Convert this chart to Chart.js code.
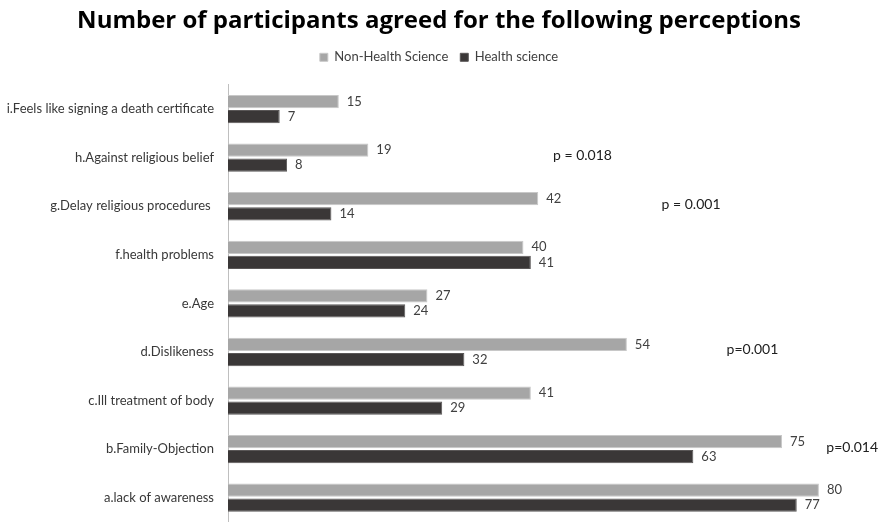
<!DOCTYPE html>
<html>
<head>
<meta charset="utf-8">
<script src="https://cdn.jsdelivr.net/npm/chart.js@4"></script>
<style>
  html, body { margin: 0; padding: 0; background: #fff; }
  #wrap { width: 878px; height: 522px; }
</style>
</head>
<body>
<div id="wrap"><canvas id="perceptionChart"></canvas></div>
<script>
const categories = [
    'i.Feels like signing a death certificate',
    'h.Against religious belief',
    'g.Delay religious procedures ',
    'f.health problems',
    'e.Age',
    'd.Dislikeness',
    'c.Ill treatment of body',
    'b.Family-Objection',
    'a.lack of awareness'
];
const nonHealthScience = [15, 19, 42, 40, 27, 54, 41, 75, 80];
const healthScience = [7, 8, 14, 41, 24, 32, 29, 63, 77];

// p-value notes: text, x value, row label
const pNotes = [
    { text: 'p = 0.018', x: 44, row: 'h.Against religious belief' },
    { text: 'p = 0.001', x: 58.7, row: 'g.Delay religious procedures ' },
    { text: 'p=0.001', x: 67.5, row: 'd.Dislikeness' },
    { text: 'p=0.014', x: 81, row: 'b.Family-Objection' }
];

const fontName = 'Lato, "Liberation Sans", sans-serif';

// extra room under the legend
const legendSpace = {
    id: 'legendSpace',
    beforeInit(chart) {
        const fit = chart.legend.fit;
        chart.legend.fit = function () {
            fit.bind(chart.legend)();
            this.height += 11;
        };
    }
};

// numbers at the end of each bar
const barValues = {
    id: 'barValues',
    afterDatasetsDraw(chart) {
        const ctx = chart.ctx;
        ctx.save();
        ctx.font = '13px ' + fontName;
        ctx.fillStyle = '#404040';
        ctx.textAlign = 'left';
        ctx.textBaseline = 'middle';
        chart.data.datasets.forEach((ds, i) => {
            chart.getDatasetMeta(i).data.forEach((bar, j) => {
                ctx.fillText(ds.data[j], bar.x + 8, bar.y);
            });
        });
        ctx.restore();
    }
};

const pValueNotes = {
    id: 'pValueNotes',
    afterDraw(chart) {
        const ctx = chart.ctx;
        const xs = chart.scales.x;
        const ys = chart.scales.y;
        ctx.save();
        ctx.font = '14px ' + fontName;
        ctx.fillStyle = '#202020';
        ctx.textAlign = 'left';
        ctx.textBaseline = 'middle';
        pNotes.forEach(n => {
            const idx = categories.indexOf(n.row);
            ctx.fillText(n.text, xs.getPixelForValue(n.x), ys.getPixelForValue(idx) - 2);
        });
        ctx.restore();
    }
};

new Chart(document.getElementById('perceptionChart'), {
    type: 'bar',
    data: {
        labels: categories,
        datasets: [
            {
                label: 'Non-Health Science',
                data: nonHealthScience,
                backgroundColor: '#a6a6a6',
                borderColor: '#c8c8c8',
                borderWidth: 1,
                categoryPercentage: 0.62,
                barPercentage: 0.88
            },
            {
                label: 'Health science',
                data: healthScience,
                backgroundColor: '#3a3737',
                borderColor: '#5a5757',
                borderWidth: 1,
                categoryPercentage: 0.62,
                barPercentage: 0.88
            }
        ]
    },
    options: {
        indexAxis: 'y',
        responsive: true,
        maintainAspectRatio: false,
        animation: false,
        layout: { padding: { left: 0, right: 0, top: 4, bottom: 0 } },
        plugins: {
            title: {
                display: true,
                text: 'Number of participants agreed for the following perceptions',
                color: '#000',
                font: { family: '"Open Sans", sans-serif', size: 24, weight: 'bold' },
                padding: { top: 3, bottom: 3 }
            },
            legend: {
                display: true,
                labels: {
                    color: '#404040',
                    font: { family: fontName, size: 13 },
                    boxWidth: 8,
                    boxHeight: 8,
                    padding: 12
                }
            },
            tooltip: { enabled: false }
        },
        scales: {
            x: {
                display: false,
                min: 0,
                max: 88
            },
            y: {
                afterFit: scale => {
                    scale.width = 228;
                    scale.paddingTop = 0;
                    scale.paddingBottom = 0;
                },
                grid: { display: false, drawTicks: false },
                border: { display: true, color: '#bfbfbf' },
                ticks: {
                    color: '#383838',
                    padding: 14,
                    font: { family: fontName, size: 13 }
                }
            }
        }
    },
    plugins: [legendSpace, barValues, pValueNotes]
});
</script>
</body>
</html>
